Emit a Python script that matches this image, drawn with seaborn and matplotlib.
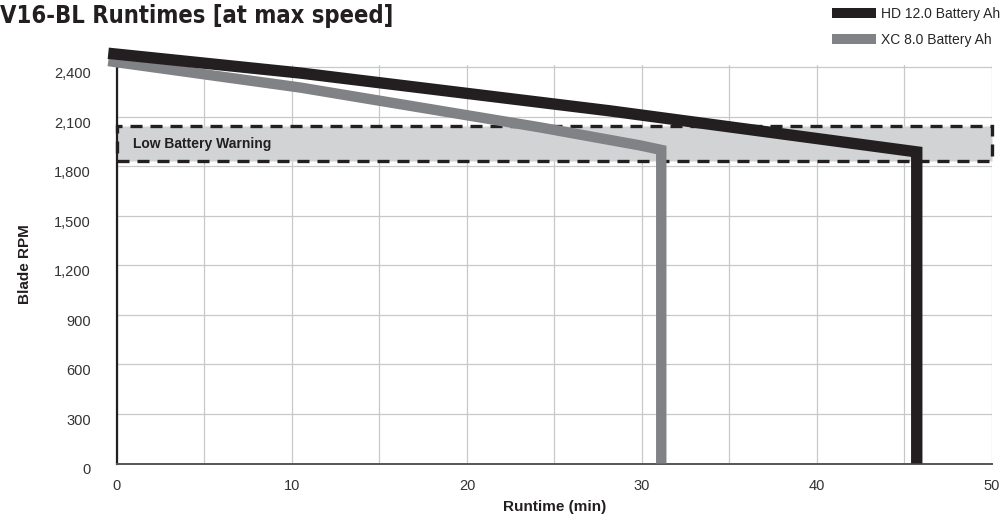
import pandas as pd
import matplotlib
matplotlib.use("Agg")
import matplotlib.pyplot as plt
import seaborn as sns
from matplotlib.patches import Rectangle, Patch

# values
hd_time = [-0.5, 10.5, 28.2, 45.7, 45.7]
hd_rpm = [2483, 2363, 2134, 1886, 0]
xc_time = [-0.5, 10.5, 24.2, 29.9, 31.1, 31.1]
xc_rpm = [2436, 2275, 2034, 1925, 1898, 0]
series = ["HD 12.0 Battery Ah", "XC 8.0 Battery Ah"]
colors = ["#231f20", "#808285"]
warn_low, warn_high = 1830, 2040
xticks = [0, 10, 20, 30, 40, 50]
yticks = [0, 300, 600, 900, 1200, 1500, 1800, 2100, 2400]

df = pd.concat([
    pd.DataFrame({"Runtime": hd_time, "RPM": hd_rpm, "Battery": series[0]}),
    pd.DataFrame({"Runtime": xc_time, "RPM": xc_rpm, "Battery": series[1]}),
])

sns.set_style("white")
plt.rcParams["font.family"] = ["Liberation Sans", "DejaVu Sans"]

fig = plt.figure(figsize=(10.04, 5.22), dpi=100)
ax = fig.add_axes([117 / 1004, 1 - 463.5 / 522, 875 / 1004, 399 / 522])

# low battery band
ax.add_patch(Rectangle((0, warn_low), 50, warn_high - warn_low, facecolor="#d1d3d4",
                       edgecolor="#231f20", linestyle=(0, (3.6, 2.4)), linewidth=2.4, zorder=1,
                       clip_on=False))
ax.text(0.9, (warn_low + warn_high) / 2, "Low Battery Warning", fontsize=10, fontweight="bold",
        color="#231f20", va="center", ha="left", zorder=2)

for name, col, lw in zip(series[::-1], colors[::-1], [7.5, 8.2]):
    sns.lineplot(data=df[df.Battery == name], x="Runtime", y="RPM", sort=False, estimator=None,
                 color=col, linewidth=lw, ax=ax, zorder=3, legend=False)
for ln in ax.lines:
    ln.set_clip_on(False)
    ln.set_solid_capstyle("butt")
    ln.set_solid_joinstyle("miter")

ax.set_xlim(0, 50)
ax.set_ylim(0, 2415)
ax.set_xticks(xticks)
ax.set_xticks(range(5, 50, 10), minor=True)
ax.set_yticks(yticks)
ax.set_yticklabels([f"{v:,}" for v in yticks])
ax.grid(True, which="both", color="#c8c8c8", linewidth=0.9)
ax.set_axisbelow(True)
ax.tick_params(axis="both", which="both", length=0, labelsize=10.5, labelcolor="#333333")
ax.tick_params(axis="x", pad=11)
ax.tick_params(axis="y", pad=19)
for t in ax.get_yticklabels():
    t.set_va("top")
sns.despine(ax=ax, top=True, right=True)
ax.spines["left"].set_color("#231f20")
ax.spines["left"].set_linewidth(1.6)
ax.spines["bottom"].set_color("#555555")
ax.spines["bottom"].set_linewidth(1.4)

ax.set_xlabel("Runtime (min)", fontsize=11, fontweight="bold", color="#231f20", labelpad=5)
ax.set_ylabel("Blade RPM", fontsize=11, fontweight="bold", color="#231f20", labelpad=16)

fig.text(0.0, 1 - 23 / 522, "V16-BL Runtimes [at max speed]", fontsize=17, fontweight="bold",
         fontstretch="condensed", family=["DejaVu Sans"], color="#231f20",
         va="baseline", ha="left")

handles = [Patch(facecolor=c, edgecolor="none") for c in colors]
fig.legend(handles, series, loc="upper left", bbox_to_anchor=(832 / 1004, 1 - 7 / 522),
           frameon=False, fontsize=10, handlelength=3.2, handleheight=0.75, handletextpad=0.35,
           labelspacing=0.85, borderpad=0, borderaxespad=0)

fig.savefig("out.png", dpi=100)
